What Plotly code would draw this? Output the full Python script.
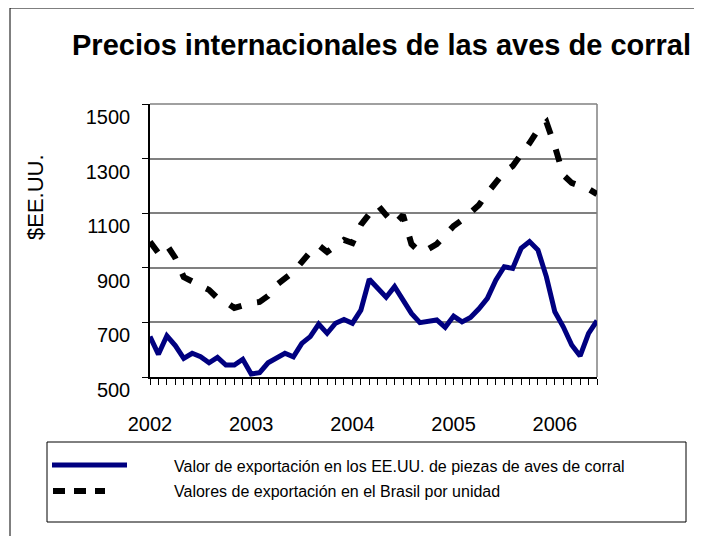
import plotly.graph_objects as go

# ---------------- data ----------------
months = [f"{y}-{m:02d}" for y in range(2002, 2007) for m in range(1, 13)][:54]  # Jan 2002 .. Jun 2006

us_values = [648, 583, 651, 615, 568, 587, 574, 552, 572, 544, 544, 565,
             511, 516, 552, 568, 587, 574, 623, 648, 694, 660, 697, 711,
             697, 745, 858, 825, 792, 831, 782, 733, 699, 702, 709, 682,
             723, 702, 718, 750, 788, 855, 904, 898, 971, 996, 965, 867,
             739, 684, 617, 577, 660, 706]

brazil_values = [995, 954, 983, 936, 866, 852, 837, 819, 789, 775, 753, 764,
                 771, 775, 797, 837, 863, 885, 921, 958, 983, 958, 980, 1002,
                 991, 1057, 1097, 1130, 1093, 1060, 1093, 987, 958, 969, 987, 1024,
                 1053, 1075, 1101, 1130, 1174, 1214, 1251, 1273, 1313, 1357, 1405, 1434,
                 1346, 1240, 1211, 1200, 1189, 1170]

year_tick_months = ["2002-01", "2003-01", "2004-01", "2005-01", "2006-01"]
year_labels = ["2002", "2003", "2004", "2005", "2006"]
y_ticks = [500, 700, 900, 1100, 1300, 1500]

title_text = "Precios internacionales de las aves de corral"
y_title = "$EE.UU."
series_names = ["Valor de exportación en los EE.UU. de piezas de aves de corral",
                "Valores de exportación en el Brasil por unidad"]

# ---------------- layout geometry (screen pixels; page body has 8px margin) ----------------
OFF = 8
W, H = 702 - 2 * OFF, 544 - 2 * OFF
PL, PR, PT, PB = 150, 597, 104, 377  # plot area on screen
SCR_R, SCR_B = W + OFF, H + OFF      # last visible screen pixel of the figure


def px(x):
    return (x - PL) / (PR - PL)


def py(y):
    return (PB - y) / (PB - PT)


x_idx = list(range(len(months)))
tick_idx = [months.index(m) for m in year_tick_months]

FONT = "Arial, 'Liberation Sans', sans-serif"

fig = go.Figure()

fig.add_trace(go.Scatter(x=x_idx, y=us_values, mode="lines", name=series_names[0],
                         line=dict(color="#000080", width=5), showlegend=False))
fig.add_trace(go.Scatter(x=x_idx, y=brazil_values, mode="lines", name=series_names[1],
                         line=dict(color="#000000", width=6, dash="13px,16px"), showlegend=False))

fig.update_layout(
    width=W, height=H,
    margin=dict(l=PL - OFF, r=W - (PR - OFF), t=PT - OFF, b=H - (PB - OFF), pad=0),
    paper_bgcolor="white", plot_bgcolor="white",
    font=dict(family=FONT, color="black", size=20),
    xaxis=dict(range=[0, len(months) - 1], tickmode="array", tickvals=tick_idx, ticktext=year_labels,
               showgrid=False, zeroline=False, showline=True, linecolor="black", linewidth=1.5,
               ticks="outside", ticklen=6, tickcolor="black", tickwidth=1,
               minor=dict(ticks="outside", dtick=1, tick0=0, ticklen=6, tickcolor="black", tickwidth=1, showgrid=False),
               tickfont=dict(size=20), ticklabelstandoff=22),
    yaxis=dict(range=[y_ticks[0], y_ticks[-1]], tickmode="array", tickvals=y_ticks,
               showgrid=True, gridcolor="#808080", gridwidth=1.5, zeroline=False,
               showline=True, linecolor="black", linewidth=1.5,
               ticks="outside", ticklen=6, tickcolor="black", tickwidth=1,
               tickfont=dict(size=20), ticklabelshift=13, ticklabelstandoff=8),
)

shapes = [
    # plot area border (gray top and right edges)
    dict(type="line", xref="paper", yref="paper", x0=1, x1=1, y0=0, y1=1,
         line=dict(color="#808080", width=1.5), layer="below"),
    dict(type="line", xref="paper", yref="paper", x0=0, x1=1, y0=1, y1=1,
         line=dict(color="#808080", width=1.5), layer="below"),
    # outer chart border (left and top edges visible)
    dict(type="line", xref="paper", yref="paper", x0=px(10), x1=px(10), y0=py(SCR_B), y1=py(8),
         line=dict(color="black", width=1)),
    dict(type="line", xref="paper", yref="paper", x0=px(10), x1=px(SCR_R), y0=py(8), y1=py(8),
         line=dict(color="black", width=1)),
    # legend box
    dict(type="rect", xref="paper", yref="paper", x0=px(47), x1=px(686), y0=py(522), y1=py(442),
         line=dict(color="black", width=1)),
    # legend samples
    dict(type="line", xref="paper", yref="paper", x0=px(52), x1=px(127), y0=py(465), y1=py(465),
         line=dict(color="#000080", width=5)),
    dict(type="line", xref="paper", yref="paper", x0=px(53), x1=px(105), y0=py(491), y1=py(491),
         line=dict(color="black", width=6, dash="12px,9px")),
]

annotations = [
    dict(text=f"<b>{title_text}</b>", xref="paper", yref="paper", x=px(381), y=py(45),
         xanchor="center", yanchor="middle", showarrow=False, font=dict(size=29, family=FONT)),
    dict(text=y_title, xref="paper", yref="paper", x=px(35), y=py(197), textangle=-90,
         xanchor="center", yanchor="middle", showarrow=False, font=dict(size=22, family=FONT)),
    dict(text=series_names[0], xref="paper", yref="paper", x=px(172), y=py(466),
         xanchor="left", yanchor="middle", showarrow=False, font=dict(size=16, family=FONT)),
    dict(text=series_names[1], xref="paper", yref="paper", x=px(172), y=py(491),
         xanchor="left", yanchor="middle", showarrow=False, font=dict(size=16, family=FONT)),
]

fig.update_layout(shapes=shapes, annotations=annotations)

fig.write_html("out.html")
